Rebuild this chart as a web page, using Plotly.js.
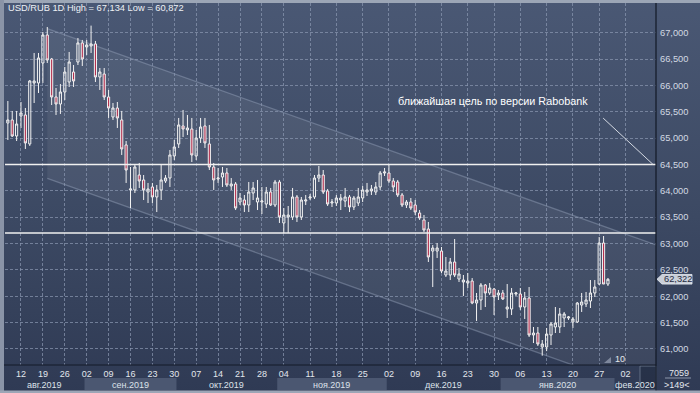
<!DOCTYPE html>
<html><head><meta charset="utf-8">
<script src="https://cdn.plot.ly/plotly-3.0.1.min.js"></script>
<style>
html,body{margin:0;padding:0;background:#9aa3b3;}
#chart{width:700px;height:393px;background:linear-gradient(to bottom,#4a5874 0%,#3c4963 55%,#2f3a54 100%);}
</style></head><body><div id="chart"></div>
<script>
// ---- data (USD/RUB daily) ----
const opens = [65287,65344,65040,65420,65439,64889,66046,66046,66425,66956,66501,65780,65647,65875,66065,66254,66444,66805,66729,66748,
66786,66160,66216,65780,65401,65571,65344,64870,64016,64016,64300,64206,63978,64073,63883,64016,64187,64243,64661,64889,
65230,65154,65173,64661,65002,65230,64889,64452,64224,64262,64338,64092,64130,63788,63826,63731,63959,63788,63788,63750,
63978,63731,64167,63390,63503,63503,63883,63503,63807,63864,63883,64243,64300,63997,63769,63769,63826,63807,63883,63693,
63769,63864,63978,63997,63978,64073,64338,64338,64187,64167,63921,63731,63788,63731,63579,63447,63276,62858,62858,62858,
62403,62403,62650,62327,62270,62251,62289,61872,61929,62213,62062,62137,62024,62062,61758,61758,62043,62043,61796,61967,
61265,61303,61038,61038,61265,61417,61417,61588,61588,61512,61512,61834,61853,61910,62062,62232,63010,62232];
const highs = [65704,65515,65515,65685,65571,66103,66615,66615,67013,67108,66520,65951,66027,66349,66634,66387,66899,66862,66862,67134,
66843,66330,66330,65913,65666,65685,65515,64945,64452,64490,64528,64300,64149,64149,64111,64490,64300,64775,64964,65382,
65534,65439,65382,65154,65382,65382,65249,64528,64433,64452,64433,64243,64167,63959,63921,64167,64167,64206,64073,64073,
64054,64206,64206,63674,63712,64054,63921,63883,63921,63940,64300,64471,64395,64035,63845,63921,63940,64054,63921,63902,
64054,64092,64149,64111,64167,64376,64433,64490,64243,64206,63959,63826,63864,63826,63636,63541,63409,62972,63010,62934,
62745,62726,63086,62536,62403,62441,62346,62062,62251,62232,62251,62156,62119,62119,62232,62156,62081,62156,62081,62175,
61417,61417,61170,61398,61512,61796,61777,61702,61626,61607,61891,62062,62081,62308,62308,63124,63143,62346];
const lows = [64964,65021,64945,65192,64794,64851,65666,65856,66046,66425,65628,65439,65458,65723,65970,65970,66387,66368,66577,66615,
66065,65913,65723,65382,65344,65192,64680,64149,63674,63959,64054,63826,63769,63769,63598,63826,64149,64073,64585,64813,
65021,65059,64547,64585,64908,64813,64395,64016,64149,64073,64073,64016,63636,63731,63598,63598,63826,63636,63560,63674,
63712,63693,63390,63200,63200,63447,63409,63447,63731,63826,63845,64167,63940,63712,63693,63712,63636,63693,63598,63636,
63712,63788,63902,63921,63921,64016,64281,64149,63978,63883,63693,63674,63636,63541,63447,63219,62650,62175,62726,62441,
62365,62308,62365,62270,62005,62156,61850,61531,61740,61796,62024,61644,61929,61929,61588,61644,62005,61740,61569,61227,
61113,61056,60872,60960,61075,61303,61303,61417,61550,61398,61493,61702,61796,61777,61986,62213,62232,62194];
const closes = [65344,65040,65268,65477,64908,66084,66084,66520,66956,66482,65780,65647,65875,66254,66444,66084,66805,66501,66767,66786,
66160,66254,65780,65571,65571,65382,64794,64395,64035,64452,64187,64016,64035,63883,64016,64206,64243,64680,64832,65249,
65173,65192,64680,65002,65211,64908,64452,64206,64243,64338,64111,64130,63674,63864,63731,63978,64054,63864,63807,63978,
63731,64167,63503,63541,63541,63883,63503,63826,63826,63883,64243,64300,63978,63750,63788,63864,63864,63883,63693,63864,
63883,64016,64016,64035,64073,64338,64357,64187,64073,63921,63731,63788,63674,63598,63484,63257,62745,62915,62915,62479,
62479,62650,62403,62422,62308,62289,61872,61929,62213,62062,62156,61986,62062,61948,61796,62062,62062,61796,61967,61265,
61303,61094,61094,61284,61474,61493,61664,61664,61607,61569,61872,61891,61929,62062,62175,63010,62232,62322];

// week ticks (candle index of each Monday) and their labels
const tickIdx = [3,8,13,18,23,28,33,38,43,48,53,58,63,69,75,81,87,93,99,105,111,117,123,129,135,141];
const tickLabels = ['12','19','26','02','09','16','23','30','07','14','21','28','04','11','18','25','02','09','16','23','30','06','13','20','27','02'];
const yTicks = [61000,61500,62000,62500,63000,63500,64000,64500,65000,65500,66000,66500,67000];
// months (boundaries in candle index)
const monthLabels = ['авг.2019','сен.2019','окт.2019','ноя.2019','дек.2019','янв.2020','фев.2020'];
const monthStart = [-0.65,17.5,38.5,61.5,86.5,112.5,138.5];
const monthEnd   = [17.5,38.5,61.5,86.5,112.5,138.5,147.97];
// drawn levels / channel / target
const levels = [64500, 63200];
const channelX = [9, 147.97];
const channelUpper = [67075, 62975];
const channelLower = [64235, 60135];
const targetX = [135.9, 147.3];
const targetY = [65380, 64500];
const noteX = 88.6, noteY = 65704;
const lastPrice = 62322;
const titleText = 'USD/RUB 1D High = 67,134 Low = 60,872';
const noteText = 'ближайшая цель по версии Rabobank';

const idx = opens.map((_, i) => i);
const XR = [-0.65, 147.97], YR = [60696, 67563];
const W = 700, H = 393, ML = 5, MR = 44, MT = 3, MB = 28;
const PW = W - ML - MR, PH = H - MT - MB;
const px = p => (p - ML) / PW;            // pixel -> paper x
const py = p => (H - MB - p) / PH;        // pixel -> paper y
const FONT = 'Liberation Sans, Arial, sans-serif';

const shapes = [];
// channel fill + edges
shapes.push({type:'path', xref:'x', yref:'y', layer:'below',
  path:`M ${channelX[0]},${channelUpper[0]} L ${channelX[1]},${channelUpper[1]} L ${channelX[1]},${channelLower[1]} L ${channelX[0]},${channelLower[0]} Z`,
  fillcolor:'rgba(255,255,255,0.06)', line:{width:0}});
shapes.push({type:'line', xref:'x', yref:'y', layer:'below', x0:channelX[0], x1:channelX[1], y0:channelUpper[0], y1:channelUpper[1], line:{color:'rgba(165,178,202,0.38)', width:1.3}});
shapes.push({type:'line', xref:'x', yref:'y', layer:'below', x0:channelX[0], x1:channelX[1], y0:channelLower[0], y1:channelLower[1], line:{color:'rgba(165,178,202,0.38)', width:1.3}});
// levels
levels.forEach(l => shapes.push({type:'line', xref:'paper', yref:'y', layer:'above', x0:0, x1:1, y0:l, y1:l, line:{color:'#f0f0f0', width:1.6}}));
// target line
shapes.push({type:'line', xref:'x', yref:'y', x0:targetX[0], x1:targetX[1], y0:targetY[0], y1:targetY[1], line:{color:'#d4d9e2', width:1}});
// month bands
monthLabels.forEach((m, k) => {
  if (k % 2 === 1) shapes.push({type:'rect', xref:'x', yref:'paper', x0:monthStart[k], x1:monthEnd[k], y0:py(390), y1:py(378), fillcolor:'#4b5771', line:{width:0}});
});
// scroll box bottom right
shapes.push({type:'rect', xref:'paper', yref:'paper', x0:px(640), x1:px(656), y0:py(390), y1:py(366), fillcolor:'rgba(38,48,70,0.85)', line:{color:'rgba(110,122,145,0.8)', width:1}});
// separators
shapes.push({type:'line', xref:'paper', yref:'paper', x0:px(656), x1:px(656), y0:py(393), y1:py(0), line:{color:'#121826', width:1.2}});
shapes.push({type:'line', xref:'paper', yref:'paper', x0:px(4), x1:px(656), y0:py(365), y1:py(365), line:{color:'#141a28', width:1}});
shapes.push({type:'line', xref:'paper', yref:'paper', x0:px(665), x1:px(691), y0:py(378), y1:py(378), line:{color:'#8b96aa', width:1}});
// frame
shapes.push({type:'rect', xref:'paper', yref:'paper', x0:px(0), x1:px(700), y0:py(3), y1:py(0), fillcolor:'#9ca6b6', line:{width:0}});
shapes.push({type:'rect', xref:'paper', yref:'paper', x0:px(0), x1:px(4), y0:py(393), y1:py(0), fillcolor:'#8a94a7', line:{width:0}});
shapes.push({type:'rect', xref:'paper', yref:'paper', x0:px(0), x1:px(700), y0:py(393), y1:py(390.5), fillcolor:'#9ca6b6', line:{width:0}});
// price tag
const tagH = 4.8 * (YR[1] - YR[0]) / PH;
shapes.push({type:'path', xref:'paper', yref:'y',
  path:`M ${px(657)},${lastPrice} L ${px(662)},${lastPrice + tagH} L ${px(692)},${lastPrice + tagH} L ${px(692)},${lastPrice - tagH} L ${px(662)},${lastPrice - tagH} Z`,
  fillcolor:'#c9cfd9', line:{color:'#e8ecf2', width:0.8}});
// small marker
shapes.push({type:'path', xref:'paper', yref:'paper',
  path:`M ${px(604)},${py(363)} L ${px(611)},${py(363)} L ${px(611)},${py(357)} Z`, fillcolor:'rgba(170,180,198,0.6)', line:{width:0}});

const annotations = [];
annotations.push({xref:'paper', yref:'paper', x:px(5.5), y:py(8.5), xanchor:'left', yanchor:'middle', showarrow:false,
  text:titleText, font:{family:FONT, size:9.3, color:'#eef1f5'}});
annotations.push({xref:'x', yref:'y', x:noteX, y:noteY, xanchor:'left', yanchor:'middle', showarrow:false,
  text:noteText, font:{family:FONT, size:10.8, color:'#ffffff'}});
monthLabels.forEach((m, k) => annotations.push({xref:'x', yref:'paper', x:(monthStart[k] + monthEnd[k]) / 2, y:py(384.5), xanchor:'center', yanchor:'middle', showarrow:false,
  text:m, font:{family:FONT, size:9, color:'#dde2ea'}}));
annotations.push({xref:'paper', yref:'y', x:px(662), y:lastPrice, xanchor:'left', yanchor:'middle', showarrow:false,
  text:lastPrice.toLocaleString('en-US'), font:{family:FONT, size:9.3, color:'#1f2a3f'}});
annotations.push({xref:'paper', yref:'paper', x:px(691), y:py(372.5), xanchor:'right', yanchor:'middle', showarrow:false,
  text:'7059', font:{family:FONT, size:9, color:'#e4e8ee'}});
annotations.push({xref:'paper', yref:'paper', x:px(677), y:py(385), xanchor:'center', yanchor:'middle', showarrow:false,
  text:'&gt;149&lt;', font:{family:FONT, size:9, color:'#e4e8ee'}});
annotations.push({xref:'paper', yref:'paper', x:px(613), y:py(359), xanchor:'left', yanchor:'middle', showarrow:false,
  text:'10', font:{family:FONT, size:9, color:'#e4e8ee'}});

const gridStyle = {gridcolor:'rgba(140,152,178,0.7)', gridwidth:1, griddash:'3px,2px'};

Plotly.newPlot('chart', [{
  type:'candlestick', x:idx, open:opens, high:highs, low:lows, close:closes,
  increasing:{line:{color:'#f2f2f2', width:1}, fillcolor:'rgba(0,0,0,0)'},
  decreasing:{line:{color:'#f2f2f2', width:1}, fillcolor:'#b3304f'},
  whiskerwidth:0, hoverinfo:'skip', showlegend:false
}], {
  width:W, height:H, margin:{l:ML, r:MR, t:MT, b:MB, pad:0},
  paper_bgcolor:'rgba(0,0,0,0)', plot_bgcolor:'rgba(0,0,0,0)',
  showlegend:false,
  xaxis:Object.assign({range:XR, type:'linear', tickmode:'array', tickvals:tickIdx, ticktext:tickLabels, ticks:'', showgrid:true, zeroline:false,
    showline:false, rangeslider:{visible:false}, tickfont:{family:FONT, size:9, color:'#e2e6ec'}, ticklabelstandoff:2, fixedrange:true}, gridStyle),
  yaxis:Object.assign({range:YR, side:'right', tickmode:'array', tickvals:yTicks, tickformat:',d', ticks:'', showgrid:true, zeroline:false,
    showline:false, tickfont:{family:FONT, size:9.3, color:'#d3d9e3'}, ticklabelstandoff:3, fixedrange:true}, gridStyle),
  shapes:shapes, annotations:annotations
}, {staticPlot:true, displayModeBar:false});
</script></body></html>
